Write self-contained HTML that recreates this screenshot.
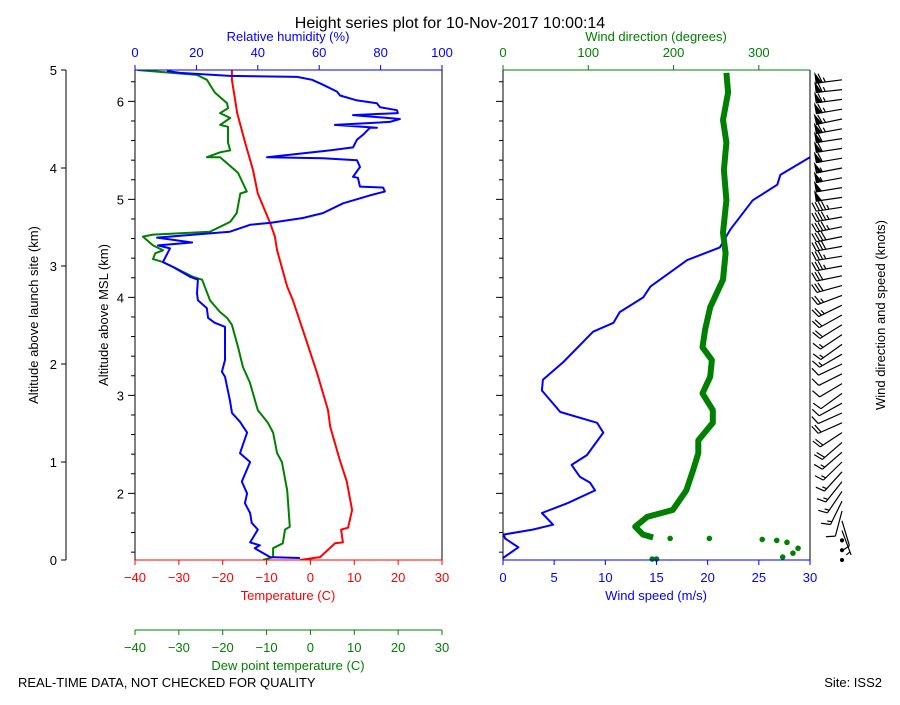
<!DOCTYPE html>
<html><head><meta charset="utf-8"><style>
body{margin:0;background:#fff;}
svg text{font-family:"Liberation Sans","DejaVu Sans",sans-serif;}
</style></head><body>
<svg id="c" width="900" height="700" xmlns="http://www.w3.org/2000/svg">
<text x="450" y="28" font-size="16" text-anchor="middle">Height series plot for 10-Nov-2017 10:00:14</text>
<text x="18" y="687" font-size="13">REAL-TIME DATA, NOT CHECKED FOR QUALITY</text>
<text x="882" y="687" font-size="13" text-anchor="end">Site: ISS2</text>
<g id="g"></g>
</svg>
<script>
// ---- data (altitude above launch site, km) ----
const tempAlt=[0,0.03,0.17,0.18,0.31,0.33,0.51,0.80,1.02,1.36,1.53,1.91,2.37,2.65,2.79,3.16,3.30,3.44,3.74,3.98,4.26,4.56,4.90,5.0];
const tempVal=[-2.4,2.2,5.6,7.4,7.0,8.6,9.5,8.3,6.7,4.5,4.0,1.5,-1.9,-4.0,-5.3,-7.6,-8.1,-9.2,-12,-13.1,-14.9,-16.7,-17.9,-17.9];
const dewAlt=[0,0.03,0.12,0.17,0.31,0.34,0.71,1.0,1.09,1.30,1.40,1.53,1.81,1.97,2.17,2.40,2.47,2.53,2.65,2.86,2.89,2.99,3.04,3.07,3.13,3.16,3.21,3.30,3.32,3.35,3.45,3.54,3.74,3.76,3.95,4.11,4.11,4.16,4.18,4.26,4.42,4.44,4.51,4.56,4.61,4.66,4.77,4.90,4.95,5.0];
const dewVal=[-10.8,-8.5,-8.5,-6.3,-5.8,-4.7,-5.3,-6.5,-7.6,-8.5,-9.7,-12,-13.8,-15.4,-16.5,-17.9,-19,-20.6,-22.9,-24.7,-26.8,-31.3,-33.6,-35.9,-35.4,-33.6,-35.9,-38.2,-35.9,-22.9,-18.3,-16.8,-16,-14.5,-16.5,-20.6,-23.6,-20.6,-18.3,-18.8,-18.8,-20.6,-18.3,-20.6,-18.8,-19,-21.8,-23.6,-25.9,-39.5];
const rhAlt=[0.02,0.03,0.12,0.15,0.18,0.31,0.38,0.48,0.58,0.68,0.80,1.0,1.09,1.30,1.41,1.50,1.63,1.87,1.92,2.04,2.38,2.42,2.47,2.57,2.65,2.72,2.86,2.89,2.99,3.04,3.18,3.21,3.24,3.29,3.35,3.42,3.44,3.49,3.54,3.64,3.72,3.76,3.80,3.81,3.90,3.91,4.01,4.08,4.10,4.11,4.18,4.21,4.29,4.34,4.41,4.41,4.44,4.47,4.50,4.54,4.56,4.59,4.62,4.66,4.69,4.74,4.78,4.85,4.90,4.93,4.94,4.97,4.99];
const rhVal=[53.7,44,39,40.7,37.5,40,38,37.5,35.8,36.5,34.8,37.5,34.2,36.5,34.2,31.6,30.9,29.3,28.3,29.3,29.3,26,23.8,23.4,20.5,20.2,20.5,17.9,12.4,9.1,11.4,7.5,18.6,7.2,30.9,37.5,44,54.7,61.2,67.8,76.5,81.4,80.8,73.3,72.6,71,73.3,72.3,61.2,43,63.5,71,72.3,74.3,76.5,78.8,65.1,83,86.3,71,85.6,85.3,79.8,78.8,72.3,66.8,65.8,61.2,57.7,52.8,30.9,14.6,10.4];
const spdAlt=[0.02,0.13,0.22,0.26,0.31,0.36,0.48,0.58,0.71,0.79,0.85,0.97,1.07,1.30,1.40,1.51,1.73,1.84,2.02,2.33,2.42,2.53,2.68,2.79,2.91,3.06,3.19,3.37,3.67,3.83,3.93,4.11,4.3,4.6,5.0];
const spdVal=[0,1.5,0.2,0.1,2.9,4.9,3.8,6.3,9,8.5,7.5,6.7,8.2,9.8,9.2,5.6,3.8,3.9,5.9,8.8,10.8,11.4,13.7,14.4,16,18,21.2,22.2,24.4,26.8,27.1,30,32,33,34];
const dirAlt=[0.23,0.26,0.34,0.44,0.51,0.71,0.92,1.09,1.22,1.40,1.53,1.70,1.87,2.04,2.17,2.35,2.58,2.86,3.13,3.34,3.67,3.98,4.26,4.49,4.77,4.97];
const dirVal=[176,164,155,169,199,215,223,229,229,246,246,234,243,245,234,237,243,258,261,258,262,259,262,258,264,262];
const dotAlt=[0.22,0.22,0.21,0.20,0.18,0.12,0.07,0.03,0.01,0.01];
const dotVal=[196,242,304,321,333,346,340,328,175,180];
const altTicks=[0,1,2,3,4,5];
const mslTicks=[2,3,4,5,6];
const tempTicks=[-40,-30,-20,-10,0,10,20,30];
const rhTicks=[0,20,40,60,80,100];
const spdTicks=[0,5,10,15,20,25,30];
const dirTicks=[0,100,200,300];
const launchMSL=1.32;

const NS='http://www.w3.org/2000/svg';
const G=document.getElementById('g');
function el(t,a,p){const e=document.createElementNS(NS,t);for(const k in a)e.setAttribute(k,a[k]);(p||G).appendChild(e);return e;}
function txt(x,y,s,a,p){const e=el('text',Object.assign({x:x,y:y,'font-size':13},a),p);e.textContent=s;return e;}
const Y=a=>560-a*98;
const XT=t=>135+(t+40)*307/70;
const XR=r=>135+r*3.07;
const XS=s=>503+s*307/30;
const XD=d=>503+d*307/360;
function poly(xs,ys,fx,col,w,name,clip){
  const pts=xs.map((v,i)=>fx(v).toFixed(1)+','+Y(ys[i]).toFixed(1)).join(' ');
  const e=el('polyline',{points:pts,fill:'none',stroke:col,'stroke-width':w,'stroke-linejoin':'round','clip-path':clip});
  
  
}
const defs=el('defs',{});
const c1=el('clipPath',{id:'cl'},defs);el('rect',{x:135,y:70,width:307,height:490},c1);
const c2=el('clipPath',{id:'cr'},defs);el('rect',{x:503,y:70,width:307,height:490},c2);

// outer left axis
const la=el('g',{});


el('line',{x1:66,y1:70,x2:66,y2:560,stroke:'#000'},la);
altTicks.forEach(v=>{el('line',{x1:61,y1:Y(v),x2:66,y2:Y(v),stroke:'#000'},la);txt(57,Y(v)+5,String(v),{'text-anchor':'end'},la);});
const lt=txt(38,315,'Altitude above launch site (km)',{'text-anchor':'middle',transform:'rotate(-90 38 315)'});



for(let m=1.4;m<=6.4;m+=0.2){const a=m-launchMSL;if(a<0||a>5)continue;const maj=Math.abs(m-Math.round(m))<0.01;
  el('line',{x1:maj?128:131,y1:Y(a),x2:135,y2:Y(a),stroke:'#000'});
  el('line',{x1:maj?496:499,y1:Y(a),x2:503,y2:Y(a),stroke:'#000'});}
mslTicks.forEach(v=>txt(124,Y(v-launchMSL)+5,String(v),{'text-anchor':'end'}));
const mt=txt(108,315,'Altitude above MSL (km)',{'text-anchor':'middle',transform:'rotate(-90 108 315)'});



poly(tempVal,tempAlt,XT,'#f00',2,'temperature-line','url(#cl)');
poly(dewVal,dewAlt,XT,'#008000',2,'dewpoint-line','url(#cl)');
poly(rhVal,rhAlt,XR,'#00f',2,'humidity-line','url(#cl)');

el('line',{x1:135,y1:70,x2:135,y2:560,stroke:'#000'});
el('line',{x1:442,y1:70,x2:442,y2:560,stroke:'#000'});
el('line',{x1:135,y1:70,x2:442,y2:70,stroke:'#00f'});
el('line',{x1:135,y1:560,x2:442,y2:560,stroke:'#f00'});
el('line',{x1:135,y1:630,x2:442,y2:630,stroke:'#008000'});
tempTicks.forEach(v=>{const x=XT(v);
  el('line',{x1:x,y1:560,x2:x,y2:565,stroke:'#f00'});txt(x,582,v<0?'\u2212'+(-v):String(v),{'text-anchor':'middle',fill:'#f00'});
  el('line',{x1:x,y1:630,x2:x,y2:635,stroke:'#008000'});txt(x,652,v<0?'\u2212'+(-v):String(v),{'text-anchor':'middle',fill:'#008000'});});
rhTicks.forEach(v=>{const x=XR(v);el('line',{x1:x,y1:65,x2:x,y2:70,stroke:'#00f'});txt(x,57,String(v),{'text-anchor':'middle',fill:'#00f'});});
let t;
t=txt(288,600,'Temperature (C)',{'text-anchor':'middle',fill:'#f00'});
t=txt(288,670,'Dew point temperature (C)',{'text-anchor':'middle',fill:'#008000'});
t=txt(288,41,'Relative humidity (%)',{'text-anchor':'middle',fill:'#00f'});

poly(spdVal,spdAlt,XS,'#00f',2,'wind-speed-line','url(#cr)');
poly(dirVal,dirAlt,XD,'#008000',6,'wind-direction-line','url(#cr)');
dotVal.forEach((v,i)=>{const d=el('circle',{cx:XD(v),cy:Y(dotAlt[i]),r:2.8,fill:'#008000'});
  
  });
el('line',{x1:503,y1:70,x2:503,y2:560,stroke:'#000'});
el('line',{x1:810,y1:70,x2:810,y2:560,stroke:'#000'});
el('line',{x1:503,y1:70,x2:810,y2:70,stroke:'#008000'});
el('line',{x1:503,y1:560,x2:810,y2:560,stroke:'#00f'});
spdTicks.forEach(v=>{const x=XS(v);el('line',{x1:x,y1:560,x2:x,y2:565,stroke:'#00f'});txt(x,582,String(v),{'text-anchor':'middle',fill:'#00f'});});
dirTicks.forEach(v=>{const x=XD(v);el('line',{x1:x,y1:65,x2:x,y2:70,stroke:'#008000'});txt(x,57,String(v),{'text-anchor':'middle',fill:'#008000'});});
t=txt(656,600,'Wind speed (m/s)',{'text-anchor':'middle',fill:'#00f'});
t=txt(656,41,'Wind direction (degrees)',{'text-anchor':'middle',fill:'#008000'});
t=txt(885,315,'Wind direction and speed (knots)',{'text-anchor':'middle',transform:'rotate(-90 885 315)'});

// wind barbs
function interp(xa,ya,a){if(a<=xa[0])return ya[0];for(let i=1;i<xa.length;i++)if(a<=xa[i]){const f=(a-xa[i-1])/(xa[i]-xa[i-1]);return ya[i-1]+f*(ya[i]-ya[i-1]);}return ya[ya.length-1];}
const bg=el('g',{stroke:'#000','stroke-width':1.2,fill:'#000'});


for(let a=0.0;a<=4.95;a+=0.1){
  const spd=interp(spdAlt,spdVal,a)*1.944, dir=interp(dirAlt,dirVal,Math.max(a,0.23))*Math.PI/180;
  const bx=842,by=Y(a);
  let kt=Math.round(spd/5)*5;
  if(kt<5){el('circle',{cx:bx,cy:by,r:1.5},bg);continue;}
  const ux=Math.sin(dir),uy=-Math.cos(dir);
  const px=-uy,py=ux; // perpendicular (upward for westerly)
  const L=26;
  const tx=bx+ux*L,ty=by+uy*L;
  el('line',{x1:bx,y1:by,x2:tx,y2:ty},bg);
  let pos=0;const sp=3.2,bl=9;
  const bxv=px*bl+ux*3, byv=py*bl+uy*3;
  while(kt>=50){const x0=tx-ux*pos,y0=ty-uy*pos;
    el('polygon',{points:`${x0},${y0} ${x0+px*bl},${y0+py*bl} ${x0-ux*5},${y0-uy*5}`},bg);pos+=6;kt-=50;}
  while(kt>=10){const x0=tx-ux*pos,y0=ty-uy*pos;el('line',{x1:x0,y1:y0,x2:x0+bxv,y2:y0+byv},bg);pos+=sp;kt-=10;}
  if(kt>=5){if(pos===0)pos=sp;const x0=tx-ux*pos,y0=ty-uy*pos;el('line',{x1:x0,y1:y0,x2:x0+bxv/2,y2:y0+byv/2},bg);}
}
</script>
</body></html>
